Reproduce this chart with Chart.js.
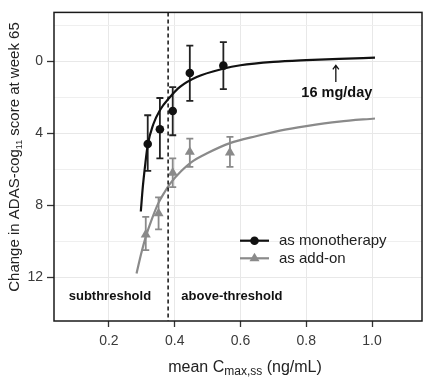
<!DOCTYPE html>
<html>
<head>
<meta charset="utf-8">
<script src="https://cdn.jsdelivr.net/npm/chart.js@4.4.1/dist/chart.umd.min.js"></script>
<style>
  html, body { margin: 0; padding: 0; background: #fff; }
  #wrap { width: 432px; height: 384px; }
</style>
</head>
<body>
<div id="wrap"><canvas id="chart" width="432" height="384"></canvas></div>
<script>
// Axis ticks
const xTicks = [0.2, 0.4, 0.6, 0.8, 1.0];
const yGridTicks = [-2, 0, 2, 4, 6, 8, 10, 12];
const yLabelTicks = [0, 4, 8, 12];

// Observed means with error bars (as monotherapy)
const monoX = [0.318, 0.355, 0.394, 0.446, 0.548];
const monoY = [4.6, 3.78, 2.76, 0.65, 0.24];
const monoTop = [3.0, 2.04, 1.43, -0.87, -1.07];
const monoBottom = [6.09, 5.4, 4.11, 2.2, 1.55];

// Observed means with error bars (as add-on)
const addX = [0.312, 0.351, 0.394, 0.446, 0.568];
const addY = [9.63, 8.46, 6.2, 5.04, 5.07];
const addTop = [8.65, 7.57, 5.4, 4.3, 4.2];
const addBottom = [10.5, 9.35, 7.0, 5.87, 5.87];

// Model curves
const monoCurveX = [0.297, 0.303, 0.310, 0.318, 0.335, 0.355, 0.386, 0.416, 0.467, 0.548, 0.60, 0.70, 0.80, 0.90, 1.009];
const monoCurveY = [8.35, 7.0, 5.8, 4.65, 3.5, 2.72, 1.98, 1.42, 0.87, 0.41, 0.22, 0.03, -0.07, -0.14, -0.2];
const addCurveX = [0.284, 0.298, 0.312, 0.33, 0.35, 0.37, 0.386, 0.42, 0.451, 0.5, 0.568, 0.65, 0.72, 0.8, 0.9, 1.009];
const addCurveY = [11.8, 10.7, 9.76, 8.8, 7.9, 7.25, 6.8, 6.1, 5.6, 5.1, 4.55, 4.15, 3.85, 3.6, 3.35, 3.18];

// Threshold and axis ranges
const thresholdX = 0.38;
const xMin = 0.033, xMax = 1.152;
const yMin = -2.72, yMax = 14.44;

const FONT = '"Liberation Sans", Arial, sans-serif';
const BLACK = '#111111';
const GREY = '#8a8a8a';

const pts = (xs, ys) => xs.map((x, i) => ({ x, y: ys[i] }));

// Error bars, frame, labels and legend
const extrasPlugin = {
  id: 'extras',
  beforeDatasetsDraw(chart) {
    const { ctx, scales: { x, y } } = chart;
    const drawBars = (xs, tops, bottoms, color) => {
      ctx.save();
      ctx.strokeStyle = color;
      ctx.lineWidth = 1.8;
      xs.forEach((v, i) => {
        const px = x.getPixelForValue(v);
        const t = y.getPixelForValue(tops[i]);
        const b = y.getPixelForValue(bottoms[i]);
        ctx.beginPath();
        ctx.moveTo(px, t); ctx.lineTo(px, b);
        ctx.moveTo(px - 3.5, t); ctx.lineTo(px + 3.5, t);
        ctx.moveTo(px - 3.5, b); ctx.lineTo(px + 3.5, b);
        ctx.stroke();
      });
      ctx.restore();
    };
    drawBars(monoX, monoTop, monoBottom, '#222');
    drawBars(addX, addTop, addBottom, GREY);
  },
  afterDraw(chart) {
    const { ctx, chartArea: a, scales: { x, y } } = chart;
    ctx.save();

    // frame
    ctx.strokeStyle = '#1a1a1a';
    ctx.lineWidth = 1.5;
    ctx.strokeRect(a.left, a.top, a.right - a.left, a.bottom - a.top);

    // region labels
    ctx.fillStyle = BLACK;
    ctx.font = 'bold 13px ' + FONT;
    ctx.textBaseline = 'middle';
    ctx.textAlign = 'center';
    ctx.fillText('subthreshold', x.getPixelForValue(0.203), y.getPixelForValue(13.06));
    ctx.fillText('above-threshold', x.getPixelForValue(0.574), y.getPixelForValue(13.06));

    // 16 mg/day arrow
    const ax = x.getPixelForValue(0.89);
    const tip = y.getPixelForValue(0.22);
    const tail = y.getPixelForValue(1.15);
    ctx.strokeStyle = BLACK;
    ctx.lineWidth = 1.3;
    ctx.beginPath();
    ctx.moveTo(ax, tail); ctx.lineTo(ax, tip);
    ctx.moveTo(ax - 3, tip + 4); ctx.lineTo(ax, tip); ctx.lineTo(ax + 3, tip + 4);
    ctx.stroke();
    ctx.font = 'bold 14.5px ' + FONT;
    ctx.fillText('16 mg/day', x.getPixelForValue(0.893), y.getPixelForValue(1.78));

    // legend
    const rows = [
      { label: 'as monotherapy', color: BLACK, style: 'circle', y: 240.7 },
      { label: 'as add-on', color: GREY, style: 'triangle', y: 258.3 }
    ];
    ctx.font = '15px ' + FONT;
    ctx.textAlign = 'left';
    rows.forEach(r => {
      ctx.strokeStyle = r.color;
      ctx.fillStyle = r.color;
      ctx.lineWidth = 2.2;
      ctx.beginPath();
      ctx.moveTo(240, r.y); ctx.lineTo(269, r.y);
      ctx.stroke();
      ctx.beginPath();
      if (r.style === 'circle') {
        ctx.arc(254.5, r.y, 4.3, 0, Math.PI * 2);
      } else {
        ctx.moveTo(254.5, r.y - 5.5); ctx.lineTo(259.5, r.y + 3); ctx.lineTo(249.5, r.y + 3);
        ctx.closePath();
      }
      ctx.fill();
      ctx.fillStyle = '#222';
      ctx.fillText(r.label, 279, r.y + 0.5);
    });

    // x axis title with subscript
    ctx.fillStyle = '#222';
    ctx.textBaseline = 'alphabetic';
    const p1 = 'mean C', p2 = 'max,ss', p3 = ' (ng/mL)';
    ctx.font = '16px ' + FONT;
    const w1 = ctx.measureText(p1).width, w3 = ctx.measureText(p3).width;
    ctx.font = '12px ' + FONT;
    const w2 = ctx.measureText(p2).width;
    let sx = 245 - (w1 + w2 + w3) / 2;
    ctx.font = '16px ' + FONT;
    ctx.fillText(p1, sx, 372);
    ctx.font = '12px ' + FONT;
    ctx.fillText(p2, sx + w1, 375);
    ctx.font = '16px ' + FONT;
    ctx.fillText(p3, sx + w1 + w2, 372);

    // y axis title with subscript
    ctx.translate(15, 157);
    ctx.rotate(-Math.PI / 2);
    const q1 = 'Change in ADAS-cog', q2 = '11', q3 = ' score at week 65';
    ctx.font = '15px ' + FONT;
    const v1 = ctx.measureText(q1).width, v3 = ctx.measureText(q3).width;
    ctx.font = '9px ' + FONT;
    const v2 = ctx.measureText(q2).width;
    let sy = -(v1 + v2 + v3) / 2;
    ctx.textBaseline = 'middle';
    ctx.font = '15px ' + FONT;
    ctx.fillText(q1, sy, 0);
    ctx.font = '9px ' + FONT;
    ctx.fillText(q2, sy + v1, 5);
    ctx.font = '15px ' + FONT;
    ctx.fillText(q3, sy + v1 + v2, 0);

    ctx.restore();
  }
};

new Chart(document.getElementById('chart'), {
  type: 'line',
  data: {
    datasets: [
      {
        label: 'threshold',
        data: [{ x: thresholdX, y: yMin }, { x: thresholdX, y: yMax }],
        borderColor: BLACK,
        borderWidth: 1.5,
        borderDash: [4, 3],
        pointRadius: 0
      },
      {
        label: 'mono curve',
        data: pts(monoCurveX, monoCurveY),
        borderColor: BLACK,
        borderWidth: 2.2,
        pointRadius: 0,
        cubicInterpolationMode: 'monotone'
      },
      {
        label: 'add-on curve',
        data: pts(addCurveX, addCurveY),
        borderColor: GREY,
        borderWidth: 2.2,
        pointRadius: 0,
        cubicInterpolationMode: 'monotone'
      },
      {
        label: 'as monotherapy',
        data: pts(monoX, monoY),
        showLine: false,
        pointStyle: 'circle',
        pointRadius: 4.3,
        backgroundColor: BLACK,
        borderColor: BLACK,
        borderWidth: 0
      },
      {
        label: 'as add-on',
        data: pts(addX, addY),
        showLine: false,
        pointStyle: 'triangle',
        pointRadius: 5.8,
        backgroundColor: GREY,
        borderColor: GREY,
        borderWidth: 0
      }
    ]
  },
  options: {
    responsive: false,
    animation: false,
    events: [],
    layout: { padding: { left: 0, top: 12, right: 10, bottom: 0 } },
    plugins: {
      legend: { display: false },
      tooltip: { enabled: false }
    },
    scales: {
      x: {
        type: 'linear',
        min: xMin,
        max: xMax,
        afterBuildTicks: s => { s.ticks = xTicks.map(v => ({ value: v })); },
        afterFit: s => { s.height = 63; },
        border: { display: false },
        grid: { color: '#e8e8e8', lineWidth: 1, tickLength: 6, tickColor: '#333', tickWidth: 1.3 },
        ticks: {
          padding: 6,
          color: '#3a3a3a',
          font: { family: FONT, size: 14 },
          callback: v => v.toFixed(1)
        }
      },
      y: {
        type: 'linear',
        reverse: true,
        min: yMin,
        max: yMax,
        afterBuildTicks: s => { s.ticks = yGridTicks.map(v => ({ value: v })); },
        afterFit: s => { s.width = 54; },
        border: { display: false },
        grid: {
          color: c => yLabelTicks.includes(c.tick && c.tick.value) ? '#e8e8e8' : '#efefef',
          lineWidth: 1,
          tickLength: 7,
          tickColor: c => yLabelTicks.includes(c.tick && c.tick.value) ? '#333' : 'rgba(0,0,0,0)',
          tickWidth: 1.3
        },
        ticks: {
          padding: 4,
          color: '#3a3a3a',
          font: { family: FONT, size: 14 },
          callback: v => yLabelTicks.includes(v) ? String(v) : ''
        }
      }
    }
  },
  plugins: [extrasPlugin]
});
</script>
</body>
</html>
